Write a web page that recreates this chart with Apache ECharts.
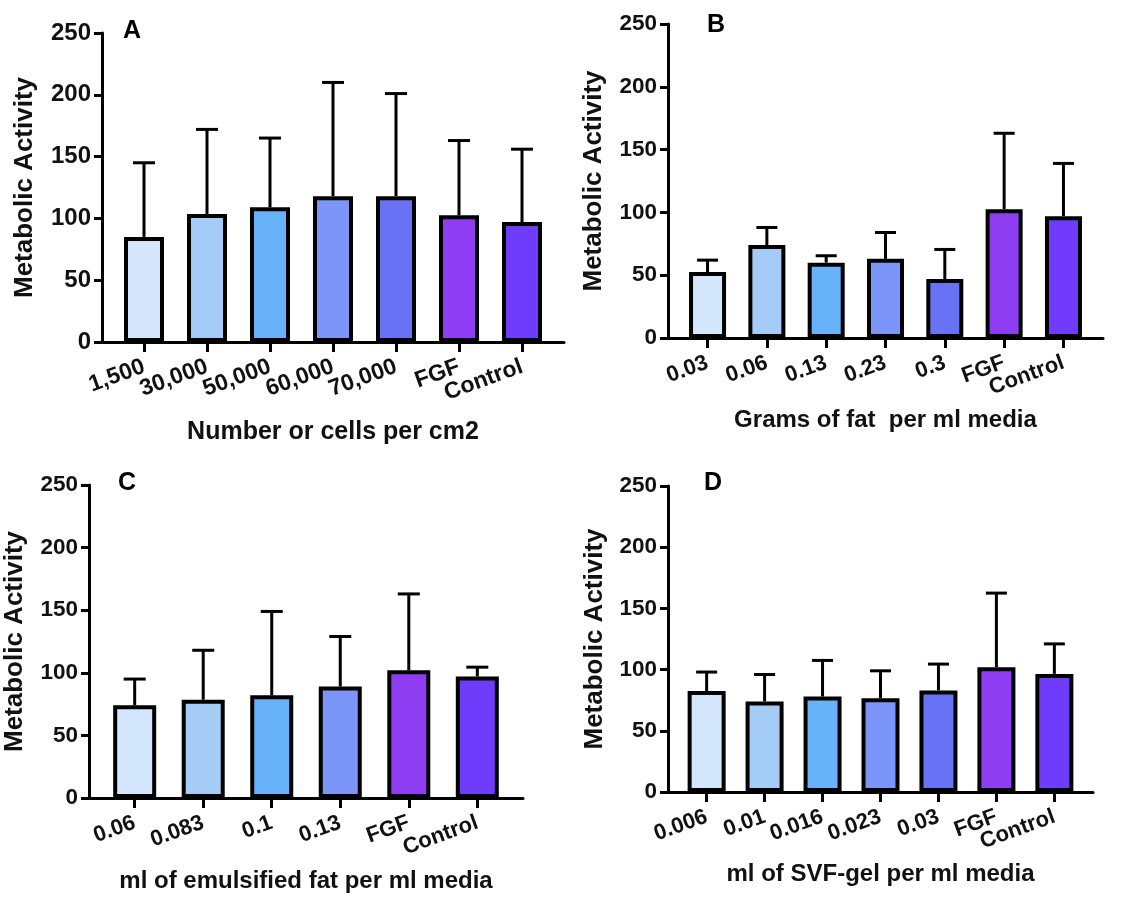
<!DOCTYPE html>
<html>
<head>
<meta charset="utf-8">
<script src="https://cdn.jsdelivr.net/npm/echarts@6/dist/echarts.min.js"></script>
<style>
html,body{margin:0;padding:0;background:#fff;}
#c{width:1137px;height:897px;}
</style>
</head>
<body>
<div id="c"></div>
<script>
// ---- Data ----
const colorsA = ['#D4E6FB','#A4CCF6','#68B2FA','#7B95F8','#6872F5','#8F3DF2','#6E3CFA'];
const colorsC = ['#D4E6FB','#A4CCF6','#68B2FA','#7B95F8','#8F3DF2','#6E3CFA'];

const catsA = ['1,500','30,000','50,000','60,000','70,000','FGF','Control'];
const meanA = [85, 103.5, 109, 118, 118, 102.5, 97];
const errA  = [145, 172, 165, 210, 201, 163, 156];

const catsB = ['0.03','0.06','0.13','0.23','0.3','FGF','Control'];
const meanB = [52.5, 74, 60, 63, 47, 102.5, 97];
const errB  = [62, 88, 65.5, 84, 70.5, 163, 139];

const catsC = ['0.06','0.083','0.1','0.13','FGF','Control'];
const meanC = [74, 78.5, 82, 89, 102, 97];
const errC  = [95, 118, 149, 129, 163, 104.5];

const catsD = ['0.006','0.01','0.016','0.023','0.03','FGF','Control'];
const meanD = [82.5, 74, 78, 76.5, 83, 102, 96.5];
const errD  = [98, 96, 107.5, 99, 104.5, 162.5, 121];

const xTitles = ['Number or cells per cm2', 'Grams of fat  per ml media', 'ml of emulsified fat per ml media', 'ml of SVF-gel per ml media'];
const yTitle = 'Metabolic Activity';
const panelLetters = ['A', 'B', 'C', 'D'];

// ---- Build ----
const FONT = "'Liberation Sans', Arial, sans-serif";
const panels = [
  {cats: catsA, mean: meanA, err: errA, colors: colorsA, grid: {left: 102, top: 33, width: 462, height: 309}, barW: 40, cap: 11, tickFont: 24, xFont: 23, nameFont: 25, nameGap: 78, yGap: 64, letter: [123, 19]},
  {cats: catsB, mean: meanB, err: errB, colors: colorsA, grid: {left: 668, top: 24, width: 435, height: 314}, barW: 37, cap: 10.5, tickFont: 22.5, xFont: 22, nameFont: 24, nameGap: 70, yGap: 61, letter: [707, 13]},
  {cats: catsC, mean: meanC, err: errC, colors: colorsC, grid: {left: 89, top: 485, width: 434, height: 313}, barW: 43, cap: 11, tickFont: 22.5, xFont: 22, nameFont: 24, nameGap: 71, yGap: 61, letter: [118, 471]},
  {cats: catsD, mean: meanD, err: errD, colors: colorsA, grid: {left: 668, top: 486, width: 425, height: 306}, barW: 38, cap: 10.5, tickFont: 22.5, xFont: 22, nameFont: 24, nameGap: 70, yGap: 60, letter: [704, 471]}
];

const grids = [], xAxes = [], yAxes = [], series = [], graphics = [];
panels.forEach((p, k) => {
  const n = p.cats.length;
  const idx = p.cats.map((_, i) => i);
  grids.push(Object.assign({containLabel: false}, p.grid));
  xAxes.push({
    type: 'value', gridIndex: k, min: -2/3, max: n - 1 + 2/3,
    name: xTitles[k], nameLocation: 'middle', nameGap: p.nameGap,
    nameTextStyle: {fontFamily: FONT, fontWeight: 'bold', fontSize: p.nameFont, color: '#111'},
    axisLine: {show: true, onZero: false, lineStyle: {color: '#000', width: 3}},
    axisTick: {show: true, customValues: idx, length: 10, lineStyle: {color: '#000', width: 3}},
    axisLabel: {show: false},
    splitLine: {show: false}
  });
  yAxes.push({
    type: 'value', gridIndex: k, min: 0, max: 250, interval: 50,
    name: yTitle, nameLocation: 'middle', nameGap: p.yGap,
    nameTextStyle: {fontFamily: FONT, fontWeight: 'bold', fontSize: 26, color: '#111'},
    axisLine: {show: true, onZero: false, lineStyle: {color: '#000', width: 3}},
    axisTick: {show: true, length: 8, lineStyle: {color: '#000', width: 3}},
    axisLabel: {margin: 11, fontFamily: FONT, fontWeight: 'bold', fontSize: p.tickFont, color: '#111'},
    splitLine: {show: false}
  });
  series.push({
    type: 'bar', xAxisIndex: k, yAxisIndex: k, barWidth: p.barW,
    data: p.mean.map((v, i) => ({value: [i, v], itemStyle: {color: p.colors[i]}})),
    itemStyle: {borderColor: '#000', borderWidth: 4},
    z: 2
  });
  series.push({
    type: 'custom', xAxisIndex: k, yAxisIndex: k, z: 3,
    encode: {x: 0, y: [1, 2]},
    data: p.mean.map((v, i) => [i, v, p.err[i]]),
    renderItem: (params, api) => {
      const x = api.value(0), m = api.value(1), e = api.value(2);
      const p0 = api.coord([x, m]);
      const p1 = api.coord([x, e]);
      return {type: 'group', children: [
        {type: 'line', shape: {x1: p0[0], y1: p0[1], x2: p1[0], y2: p1[1]}, style: {stroke: '#000', lineWidth: 3}},
        {type: 'line', shape: {x1: p1[0] - p.cap, y1: p1[1], x2: p1[0] + p.cap, y2: p1[1]}, style: {stroke: '#000', lineWidth: 3}}
      ]};
    }
  });
  // category tick labels (rotated), placed through the axis scale
  series.push({
    type: 'custom', xAxisIndex: k, yAxisIndex: k, z: 4, clip: false, silent: true,
    encode: {x: 0, y: 1},
    data: idx.map(i => [i, 0]),
    renderItem: (params, api) => {
      const i = api.value(0);
      const pt = api.coord([i, 0]);
      return {type: 'text', x: pt[0], y: pt[1] + 24, rotation: 20 * Math.PI / 180,
        style: {text: p.cats[i], align: 'right', verticalAlign: 'middle',
          font: 'bold ' + p.xFont + 'px ' + FONT, fill: '#111'}};
    }
  });
  graphics.push({type: 'text', left: p.letter[0], top: p.letter[1],
    style: {text: panelLetters[k], font: "bold 25px " + FONT, fill: '#000'}});
});

const chart = echarts.init(document.getElementById('c'), null, {renderer: 'canvas'});
chart.setOption({
  animation: false,
  backgroundColor: '#fff',
  grid: grids, xAxis: xAxes, yAxis: yAxes, series: series, graphic: graphics
});
</script>
</body>
</html>
